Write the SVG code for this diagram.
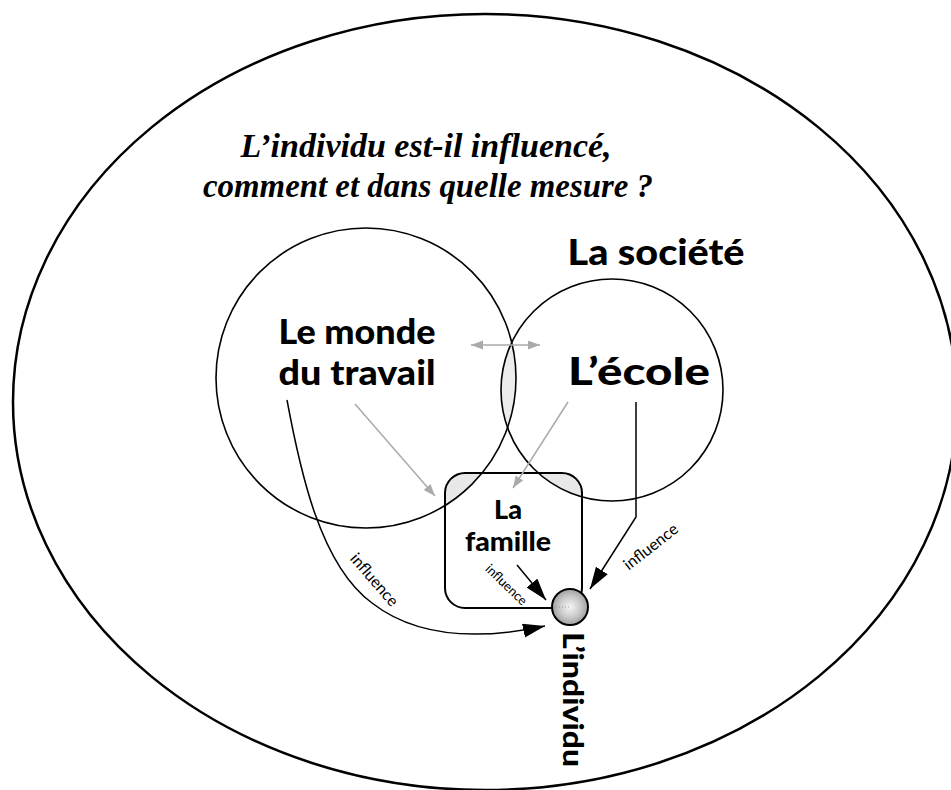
<svg xmlns="http://www.w3.org/2000/svg" width="951" height="790" viewBox="0 0 951 790">
<style>
.outline{fill:none;stroke:#000}
.lbl{font-family:"Lato","Open Sans",sans-serif;font-weight:900;fill:#000;text-anchor:middle}
.inf{font-family:"Lato","Open Sans",sans-serif;fill:#000;text-anchor:middle}
.title{font-family:"Liberation Serif",serif;font-weight:bold;font-style:italic;font-size:34px;text-anchor:middle;fill:#000}
.gray{stroke:#aaa;stroke-width:1.5;fill:none}
.blk{stroke:#000;stroke-width:1.5;fill:none}
</style>
<defs>
<marker id="ab" markerUnits="userSpaceOnUse" markerWidth="24" markerHeight="16" refX="22" refY="7" orient="auto"><path d="M0,0 L22,7 L0,14 z" fill="#000"/></marker>
<marker id="ag" markerUnits="userSpaceOnUse" markerWidth="14" markerHeight="10" refX="12" refY="4.5" orient="auto-start-reverse"><path d="M0,0 L12,4.5 L0,9 z" fill="#aaa"/></marker>
<clipPath id="c1"><circle cx="366" cy="378" r="150"/></clipPath>
<clipPath id="c2"><circle cx="612" cy="390" r="111"/></clipPath>
<radialGradient id="ind" cx="0.5" cy="0.5" r="0.5">
<stop offset="0" stop-color="#f6f6f6"/><stop offset="0.6" stop-color="#c8c8c8"/><stop offset="1" stop-color="#a0a0a0"/>
</radialGradient>
</defs>
<g id="societe">
<ellipse class="outline" cx="485" cy="402" rx="472" ry="388" stroke-width="2.5"/>
<text class="lbl" x="656" y="265" font-size="36" textLength="177" lengthAdjust="spacingAndGlyphs">La société</text>
</g>
<g id="title">
<text class="title" x="426" y="157">L’individu est-il influencé,</text>
<text class="title" x="428" y="197" textLength="450" lengthAdjust="spacingAndGlyphs">comment et dans quelle mesure ?</text>
</g>
<g id="overlaps">
<circle cx="612" cy="390" r="111" fill="#ececec" clip-path="url(#c1)"/>
<g clip-path="url(#c1)"><rect x="445" y="473" width="137" height="135" rx="20" fill="#e8e8e8"/></g>
<g clip-path="url(#c2)"><rect x="445" y="473" width="137" height="135" rx="20" fill="#e8e8e8"/></g>
</g>
<g id="travail">
<circle class="outline" cx="366" cy="378" r="150" stroke-width="1.6"/>
<text class="lbl" x="357" y="344" font-size="34" textLength="157" lengthAdjust="spacingAndGlyphs">Le monde</text>
<text class="lbl" x="357" y="385" font-size="34" textLength="157" lengthAdjust="spacingAndGlyphs">du travail</text>
</g>
<g id="ecole">
<circle class="outline" cx="612" cy="390" r="111" stroke-width="1.6"/>
<text class="lbl" x="639" y="385" font-size="37" textLength="142" lengthAdjust="spacingAndGlyphs">L’école</text>
</g>
<g id="famille">
<rect class="outline" x="445" y="473" width="137" height="135" rx="20" stroke-width="2"/>
<text class="lbl" x="508" y="519" font-size="27">La</text>
<text class="lbl" x="508" y="551" font-size="27" textLength="86" lengthAdjust="spacingAndGlyphs">famille</text>
</g>
<g id="connectors">
<line class="gray" x1="471" y1="345" x2="540" y2="345" marker-start="url(#ag)" marker-end="url(#ag)"/>
<line class="gray" x1="355" y1="404" x2="435" y2="496" marker-end="url(#ag)"/>
<line class="gray" x1="568" y1="402" x2="513" y2="488" marker-end="url(#ag)"/>
<path class="blk" d="M287,400 C300,470 320,565 372,603 C412,634 470,642 545,626" marker-end="url(#ab)"/>
<line class="blk" x1="517" y1="565" x2="546" y2="600" marker-end="url(#ab)"/>
<path class="blk" d="M636,402 L636,517 L590,589" marker-end="url(#ab)"/>
<text class="inf" font-size="16" transform="translate(374,580) rotate(49)" dy="5">influence</text>
<text class="inf" font-size="13" transform="translate(506,585) rotate(44)" dy="4">influence</text>
<text class="inf" font-size="16" transform="translate(651,547) rotate(-38)" dy="5">influence</text>
</g>
<g id="individu">
<circle cx="570" cy="607" r="18" fill="url(#ind)" stroke="#000" stroke-width="2"/>
<line x1="553" y1="607" x2="570" y2="607" stroke="#888" stroke-width="0.8" stroke-dasharray="1,2"/>
<text class="lbl" font-size="29" transform="translate(563,632) rotate(90)" style="text-anchor:start" textLength="135" lengthAdjust="spacingAndGlyphs">L’individu</text>
</g>
</svg>
